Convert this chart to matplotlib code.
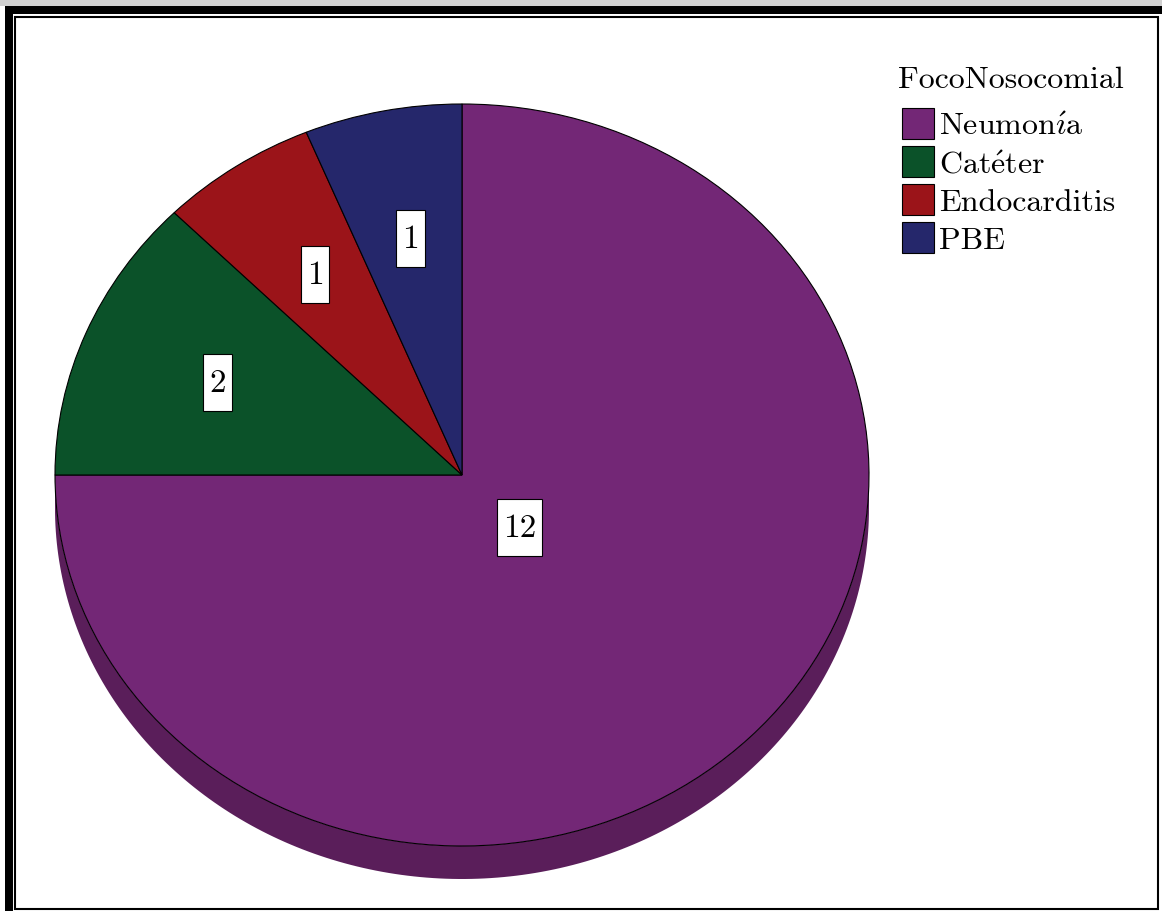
import matplotlib.pyplot as plt
import numpy as np
from matplotlib.patches import Rectangle, Polygon
from matplotlib.path import Path

categories = [r'Neumon$\mathrm{\acute{\imath}}$a', r'Cat$\mathrm{\acute{e}}$ter',
              'Endocarditis', 'PBE']
counts = [12, 2, 1, 1]
colors = ['#732776', '#0b5229', '#9b1419', '#25276b']
side_color = '#5a1e5a'
legend_title = 'FocoNosocomial'

W, H = 1162, 912
plt.rcParams['font.family'] = ['cmr10', 'DejaVu Serif']
plt.rcParams['axes.formatter.use_mathtext'] = True
plt.rcParams['mathtext.fontset'] = 'cm'

fig = plt.figure(figsize=(W / 100, H / 100), dpi=100)

# pie geometry in pixels (ellipse centre, radii, depth of the side wall)
cx, cy, rx, ry = 462, 476, 407, 371
depth = 33
ax = fig.add_axes([(cx - rx) / W, 1 - (cy + ry + depth) / H,
                   2 * rx / W, (2 * ry + depth) / H])

# side wall below the front half
d = depth / ry
t = np.linspace(np.pi, 2 * np.pi, 200)
wall = np.concatenate([np.column_stack([np.cos(t), np.sin(t)]),
                       np.column_stack([np.cos(t[::-1]), np.sin(t[::-1]) - d])])
ax.add_patch(Polygon(wall, closed=True, fc=side_color, ec='none', zorder=0))

wedges, _ = ax.pie(counts, colors=colors, startangle=90, counterclock=False,
                   wedgeprops=dict(edgecolor='black', linewidth=0.8))
ax.set_aspect('auto')
ax.set_xlim(-1, 1)
ax.set_ylim(-1 - d, 1)
ax.axis('off')


def tall_box(x0, y0, width, height, mutation_size):
    # narrow side padding, tall top/bottom padding like the SPSS labels
    px, py = 0.18 * mutation_size, 0.42 * mutation_size
    x0, y0 = x0 - px, y0 - py
    x1, y1 = x0 + width + 2 * px, y0 + height + 2 * py
    return Path([(x0, y0), (x1, y0), (x1, y1), (x0, y1), (x0, y0)], closed=True)


label_dist = [0.2, 0.65, 0.65, 0.65]
for w, n, r in zip(wedges, counts, label_dist):
    ang = np.deg2rad((w.theta1 + w.theta2) / 2)
    ax.text(r * np.cos(ang), r * np.sin(ang), str(n), ha='center', va='center',
            fontsize=24, zorder=5,
            bbox=dict(boxstyle=tall_box, fc='white', ec='black', lw=0.8))

fig.text(1011 / W, 1 - 88 / H, legend_title, ha='center', va='baseline', fontsize=23)
fig.legend(wedges, categories, loc='upper left',
           bbox_to_anchor=(902 / W, 1 - 109 / H), frameon=False,
           fontsize=23, handlelength=1.0, handleheight=1.1,
           handletextpad=0.15, labelspacing=0.18, borderpad=0, borderaxespad=0)

# frame around the picture
def px_rect(x0, y0, x1, y1, **kw):
    fig.add_artist(Rectangle((x0 / W, 1 - y1 / H), (x1 - x0) / W, (y1 - y0) / H,
                             transform=fig.transFigure, **kw))

px_rect(0, 0, W, 7, fc='#d0d0d0', ec='none')
px_rect(5, 7, W, 15, fc='black', ec='none')
px_rect(5, 7, 13, H, fc='black', ec='none')
px_rect(15, 18, 1158, 910, fc='none', ec='black', lw=1.5)

fig.savefig('out.png', dpi=100)
